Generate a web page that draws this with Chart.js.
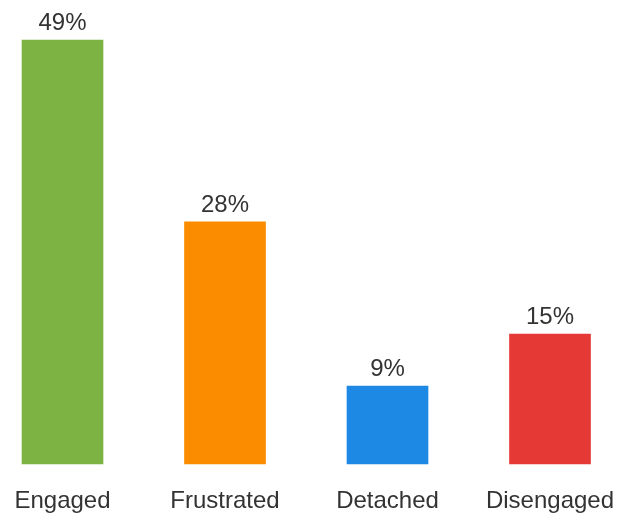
<!DOCTYPE html>
<html>
<head>
<meta charset="utf-8">
<script src="https://cdn.jsdelivr.net/npm/chart.js@4/dist/chart.umd.min.js"></script>
<style>
  html, body { margin: 0; padding: 0; background: #fff; }
  #wrap { width: 629px; height: 514px; }
</style>
</head>
<body>
<div id="wrap"><canvas id="chart"></canvas></div>
<script>
const categories = ['Engaged', 'Frustrated', 'Detached', 'Disengaged'];
const values = [49, 28, 9, 15];
const barColors = ['#7cb342', '#fb8c00', '#1e88e5', '#e53935'];

const textColor = '#333333';
const fontFamily = '"Liberation Sans", Arial, sans-serif';

// draw the percentage above each bar
const valueLabels = {
    id: 'valueLabels',
    afterDatasetsDraw(chart) {
        const ctx = chart.ctx;
        const meta = chart.getDatasetMeta(0);
        ctx.save();
        ctx.font = '24px ' + fontFamily;
        ctx.fillStyle = textColor;
        ctx.textAlign = 'center';
        ctx.textBaseline = 'alphabetic';
        meta.data.forEach((bar, i) => {
            ctx.fillText(values[i] + '%', bar.x, bar.y - 10);
        });
        ctx.restore();
    }
};

new Chart(document.getElementById('chart'), {
    type: 'bar',
    data: {
        labels: categories,
        datasets: [{
            data: values,
            backgroundColor: barColors,
            barThickness: 81,
            clip: false
        }]
    },
    options: {
        responsive: true,
        maintainAspectRatio: false,
        animation: false,
        layout: { padding: { top: 40, left: 62.5, right: 79, bottom: 0 } },
        plugins: {
            legend: { display: false },
            tooltip: { enabled: false }
        },
        scales: {
            x: {
                offset: false,
                grid: { display: false },
                border: { display: false },
                afterFit(scale) {
                    scale.height = 50;
                    scale.paddingLeft = 0;
                    scale.paddingRight = 0;
                },
                ticks: {
                    color: textColor,
                    font: { size: 24, family: fontFamily },
                    padding: 15,
                    maxRotation: 0
                }
            },
            y: {
                display: false,
                min: 0,
                max: 49
            }
        }
    },
    plugins: [valueLabels]
});
</script>
</body>
</html>
